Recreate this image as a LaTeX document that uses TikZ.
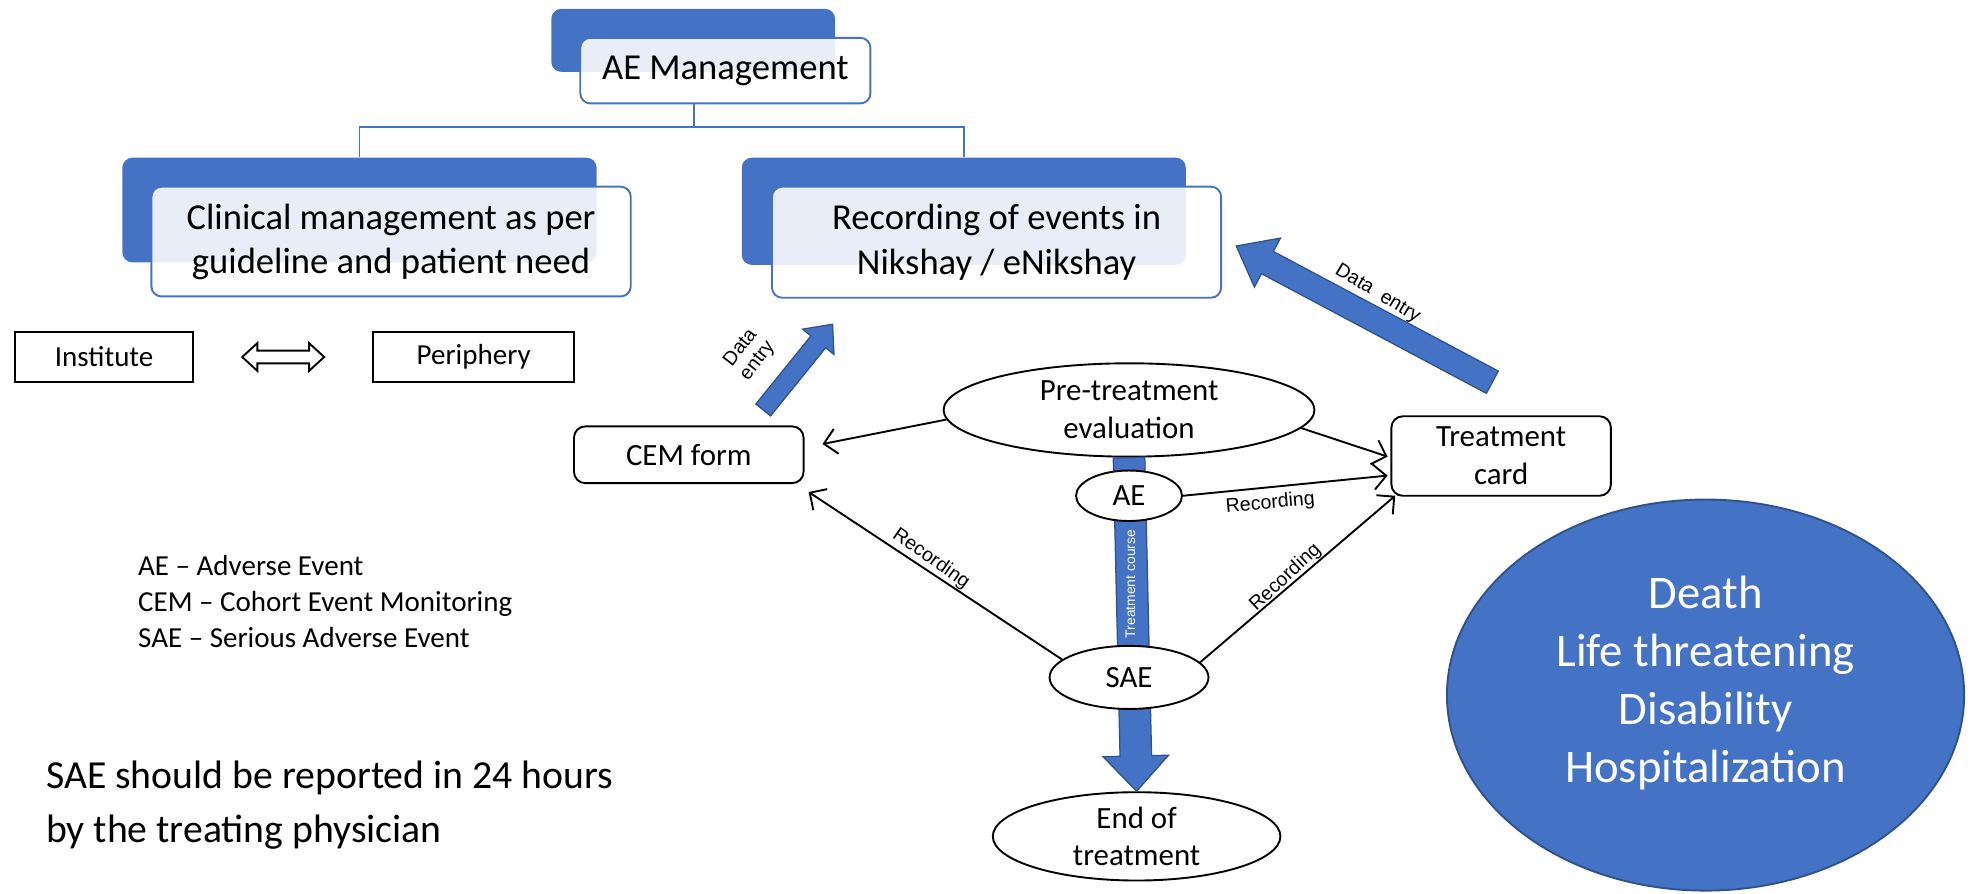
\documentclass[tikz,border=0pt]{standalone}
\usepackage{fontspec}
\setmainfont{Carlito}
\newfontfamily\arialf{Liberation Sans}
\usetikzlibrary{calc,shapes.geometric,arrows.meta}
\definecolor{obl}{HTML}{4472C4}
\definecolor{obd}{HTML}{2F528F}
\newcommand\fs[2]{\fontsize{#1}{#2}\selectfont}
% block arrow: #1 from, #2 to, #3 shaft half width, #4 head half width, #5 head length, #6 name
\newcommand\blkarrow[6]{%
  \coordinate (#6H) at ($(#2)!#5!(#1)$);
  \draw[blockarrow] ($(#1)!#3!90:(#2)$) -- ($(#6H)!#3!-90:(#1)$) -- ($(#6H)!#4!-90:(#1)$)
    -- (#2) -- ($(#6H)!#4!90:(#1)$) -- ($(#6H)!#3!90:(#1)$) -- ($(#1)!#3!-90:(#2)$) -- cycle;}
\begin{document}
\begin{tikzpicture}[x=1pt,y=-1pt,
  backbox/.style={fill=obl, rounded corners=8pt, inner sep=0pt},
  frontbox/.style={draw=obl, line width=1.5pt, fill=white, fill opacity=0.88, text opacity=1,
    rounded corners=8pt, align=center, inner sep=0pt, font=\fs{29}{35}},
  conn/.style={draw=obl, line width=1.5pt},
  plainbox/.style={draw, line width=1.5pt, inner sep=0pt, font=\fs{23}{28}},
  rbox/.style={draw, line width=1.5pt, rounded corners=9pt, align=center, inner sep=0pt, font=\fs{24.5}{30}},
  oval/.style={ellipse, draw, line width=1.5pt, fill=white, inner sep=0pt, align=center, font=\fs{24.5}{30}},
  arr/.style={line width=1.5pt, -{Straight Barb[length=10pt,width=20pt,line width=1.5pt]}},
  lab/.style={font=\arialf\fs{15.5}{18}},
  blockarrow/.style={fill=obl, draw=obd, line width=1pt, line join=miter},
]
\useasboundingbox (0,0) rectangle (1568,708);

% ---- AE management tree ----
\node[backbox, minimum width=225pt, minimum height=50pt] (aemb) at (549.5,32) {};
\node[frontbox, minimum width=230pt, minimum height=52pt] (aemf) at (575,56) {AE Management};
\node[backbox, minimum width=376pt, minimum height=83pt] (clinb) at (285,166.5) {};
\node[frontbox, minimum width=380pt, minimum height=87pt] (clinf) at (310,191.5) {Clinical management as per\\guideline and patient need};
\node[backbox, minimum width=352pt, minimum height=85pt] (recb) at (764,167.5) {};
\node[frontbox, minimum width=356pt, minimum height=88pt] (recf) at (790,192) {Recording of events in\\Nikshay / eNikshay};
\coordinate (j) at (550,101);
\draw[conn] (aemf.south -| j) -- (j);
\draw[conn] (j) -| (clinb.north);
\draw[conn] (j) -| (recb.north);

% ---- Institute / Periphery ----
\node[plainbox, minimum width=141pt, minimum height=40pt] (inst) at (82.5,283) {Institute};
\node[plainbox, minimum width=159pt, minimum height=40pt] (peri) at (375.5,283) {Periphery};
\coordinate (dbl) at (224.5,283);
\draw[line width=1.5pt, fill=white, shift={(dbl)}]
  (-32.5,0) -- (-20.5,-11) -- (-20.5,-5) -- (20.5,-5) -- (20.5,-11) -- (32.5,0)
  -- (20.5,11) -- (20.5,5) -- (-20.5,5) -- (-20.5,11) -- cycle;

% ---- legend ----
\node[anchor=west, align=left, font=\fs{23}{28.5}] (legend) at (106,477)
  {AE -- Adverse Event\\CEM -- Cohort Event Monitoring\\SAE -- Serious Adverse Event};
\node[anchor=west, align=left, font=\fs{31.5}{43}] (note) at (33,638.5)
  {SAE should be reported in 24 hours\\by the treating physician};

% ---- treatment flow ----
\node[oval, minimum width=294pt, minimum height=74pt] (pre) at (895,325) {Pre-treatment\\evaluation};
\node[oval, minimum width=228pt, minimum height=70pt] (eot) at (901,663) {End of\\treatment};
\blkarrow{pre.south}{eot.north}{12.5pt}{26pt}{28pt}{tcb}
\node[oval, minimum width=84pt, minimum height=40pt] (ae) at (895,393) {AE};
\node[oval, minimum width=126pt, minimum height=50pt] (sae) at (895,537) {SAE};
\node[text=white, rotate=90, font=\arialf\fs{11}{13}] (tclab) at (896,463) {Treatment course};

\node[rbox, minimum width=182pt, minimum height=45pt] (cem) at (546,360.5) {CEM form};
\node[rbox, minimum width=174pt, minimum height=63pt] (tc) at (1190,361.5) {Treatment\\card};

\coordinate (c1) at (652,352);
\coordinate (c2) at (641,390);
\coordinate (t1) at (1100,362);
\coordinate (t2) at (1100,377);
\coordinate (t3) at (1106,393);
\draw[arr] (pre.183) -- (c1);
\draw[arr] (pre.354) -- (t1);
\draw[arr] (ae.east) -- (t2);
\draw[arr] (sae.12) -- (t3);
\draw[arr] (sae.165) -- (c2);
\node[lab, rotate=5] at (1007,399) {Recording};
\node[lab, rotate=43] at (1019,458) {Recording};
\node[lab, rotate=-35] at (738,443) {Recording};

% ---- data entry arrows ----
\coordinate (d1s) at (605,325);
\coordinate (d1e) at (660,257);
\blkarrow{d1s}{d1e}{7.5pt}{16pt}{18pt}{sde}
\node[lab, rotate=52, align=center, font=\arialf\fs{15.5}{17}] at (594,281) {Data\\entry};
\coordinate (d2s) at (1183,303);
\coordinate (d2e) at (980,195);
\blkarrow{d2s}{d2e}{10pt}{22pt}{28pt}{bde}
\node[lab, rotate=-31] at (1092,233) {Data\ \ entry};

% ---- outcomes circle ----
\node[ellipse, fill=obl, draw=obd, line width=1.5pt, minimum width=410pt, minimum height=310pt,
  inner sep=0pt] (sev) at (1352,551) {};
\node[text=white, align=center, font=\fs{37}{46}] (sevtxt) at (1352,541.5)
  {Death\\Life threatening\\Disability\\Hospitalization};
\end{tikzpicture}
\end{document}
